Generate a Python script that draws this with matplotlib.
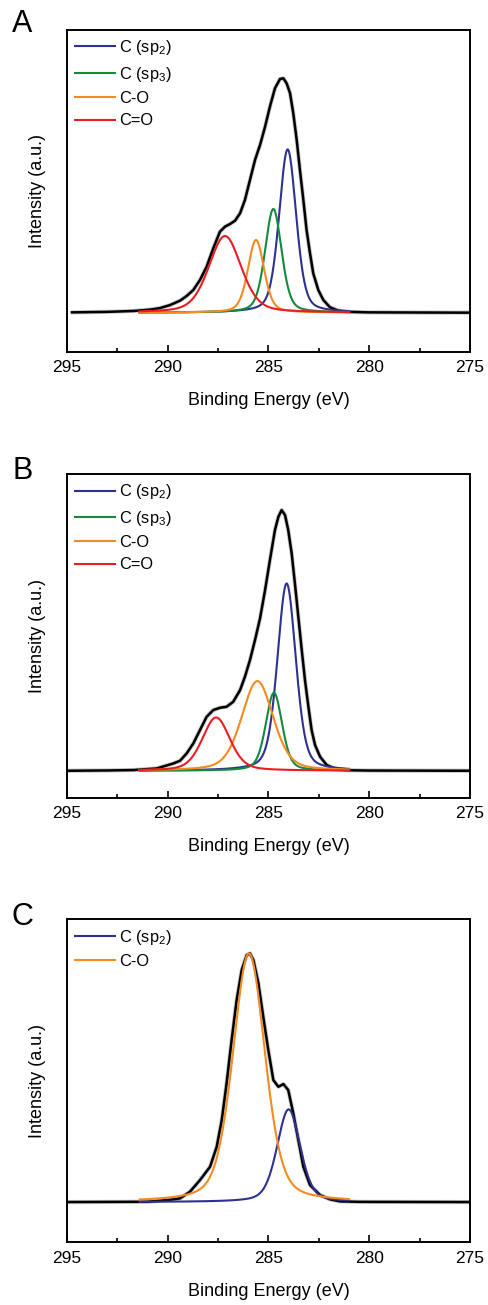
"""
C 1s XPS spectra, three samples (A, B, C) with fitted components.

Envelope values are read off the published figure; the components are
pseudo-Voigt peaks described by centre / height / FWHM.
"""

import numpy as np
import matplotlib
matplotlib.use("Agg")
import matplotlib.pyplot as plt
from matplotlib.ticker import MultipleLocator


# ── Data ──────────────────────────────────────────────────────────────────────

# panel A: fitted envelope (binding energy, intensity a.u.)
a_env_ev = [294.75, 293.0, 291.7, 290.9, 290.4, 289.9, 289.39, 289.06, 288.73,
            288.40, 288.07, 287.74, 287.41, 287.16, 286.91, 286.66, 286.41,
            286.17, 285.92, 285.67, 285.42, 285.17, 284.93, 284.68, 284.43,
            284.26, 284.10, 283.93, 283.77, 283.60, 283.44, 283.27, 283.11,
            282.94, 282.78, 282.53, 282.28, 281.95, 281.53, 281.0, 280.0, 275.0]
a_env_int = [0.3, 0.8, 1.7, 3.0, 4.5, 7.5, 12.0, 16.7, 22.7,
             32.7, 46.0, 64.4, 81.0, 86.0, 88.7, 92.0, 99.4,
             112.7, 132.7, 152.7, 167.7, 186.0, 206.0, 224.4, 233.7,
             234.4, 229.4, 219.4, 199.4, 172.7, 142.7, 112.7, 82.7,
             59.4, 39.4, 22.7, 12.7, 5.4, 2.0, 0.8, 0.3, 0.0]
a_labels = ["C (sp$\\mathregular{_2}$)", "C (sp$\\mathregular{_3}$)", "C-O", "C=O"]
a_centres = [284.05, 284.76, 285.62, 287.16]
a_heights = [163.3, 103.7, 72.7, 76.7]
a_fwhm = [1.00, 0.97, 0.95, 1.90]

# panel B
b_env_ev = [295.0, 293.0, 291.7, 290.55, 289.72, 289.39, 289.06, 288.73, 288.40,
            288.07, 287.74, 287.41, 287.08, 286.75, 286.41, 286.17, 285.92,
            285.67, 285.42, 285.17, 284.93, 284.68, 284.51, 284.35, 284.18,
            284.02, 283.85, 283.69, 283.52, 283.35, 283.19, 283.02, 282.86,
            282.69, 282.44, 282.11, 281.62, 281.0, 280.0, 275.0]
b_env_int = [0.0, 0.3, 0.7, 2.3, 7.3, 10.0, 17.4, 27.4, 40.7,
             54.0, 60.7, 63.0, 64.0, 69.0, 80.7, 94.0, 110.7,
             130.7, 152.4, 180.7, 210.7, 240.7, 254.0, 260.7, 255.7,
             240.7, 217.4, 187.4, 154.0, 120.7, 90.7, 64.0, 40.7,
             25.7, 14.0, 5.7, 1.4, 0.5, 0.2, 0.0]
b_labels = a_labels
b_centres = [284.10, 284.73, 285.55, 287.60]
b_heights = [187.3, 78.0, 89.7, 53.3]
b_fwhm = [1.08, 0.96, 1.85, 1.62]

# panel C
c_env_ev = [295.0, 291.0, 290.3, 289.8, 289.39, 288.90, 288.40, 287.90, 287.57,
            287.32, 287.08, 286.83, 286.58, 286.33, 286.08, 285.92, 285.75,
            285.50, 285.26, 285.01, 284.76, 284.51, 284.26, 284.02, 283.77,
            283.52, 283.27, 282.94, 282.44, 281.95, 281.45, 280.5, 275.0]
c_env_int = [0.0, 0.3, 1.5, 2.5, 3.7, 10.3, 22.0, 35.3, 55.3,
             82.0, 118.7, 162.0, 202.0, 232.0, 247.0, 248.7, 242.0,
             218.7, 185.3, 152.0, 122.0, 115.3, 118.0, 112.0, 88.7,
             62.0, 35.3, 17.0, 7.0, 2.7, 0.7, 0.2, 0.0]
c_labels = ["C (sp$\\mathregular{_2}$)", "C-O"]
c_centres = [284.00, 285.97]
c_heights = [92.7, 248.7]
c_fwhm = [1.36, 1.88]

panel_letters = ["A", "B", "C"]
x_ticks = [295, 290, 285, 280, 275]


# ── Style ─────────────────────────────────────────────────────────────────────

plt.rcParams["font.family"] = ["Liberation Sans", "DejaVu Sans"]
plt.rcParams["mathtext.fontset"] = "custom"
plt.rcParams["mathtext.rm"] = "Liberation Sans"

COLOURS = {"C (sp$\\mathregular{_2}$)": "#2e3192",
           "C (sp$\\mathregular{_3}$)": "#138a3e",
           "C-O": "#f58a1f",
           "C=O": "#ec1c24"}
ETA = 0.35                      # Lorentzian fraction of the pseudo-Voigt
FIT_RANGE = (291.4, 281.0)      # energies over which components are drawn


def pseudo_voigt(x, centre, height, fwhm, eta=ETA):
    r2 = ((x - centre) / fwhm) ** 2
    gauss = np.exp(-4.0 * np.log(2.0) * r2)
    lorentz = 1.0 / (1.0 + 4.0 * r2)
    return height * (eta * lorentz + (1.0 - eta) * gauss)


# ── Figure ────────────────────────────────────────────────────────────────────

fig = plt.figure(figsize=(4.88, 13.05), dpi=100)

panels = [
    (a_env_ev, a_env_int, a_labels, a_centres, a_heights, a_fwhm),
    (b_env_ev, b_env_int, b_labels, b_centres, b_heights, b_fwhm),
    (c_env_ev, c_env_int, c_labels, c_centres, c_heights, c_fwhm),
]
# axes rectangles (fig fraction) and y-limits putting the baseline in place
rects = [[0.1373, 0.7303, 0.8258, 0.2467],
         [0.1373, 0.3887, 0.8258, 0.2480],
         [0.1373, 0.0480, 0.8258, 0.2475]]
ylims = [(-39.3, 282.7), (-27.0, 296.7), (-40.3, 282.7)]
letter_y = [0.9816, 0.6391, 0.2973]

for k, (env_ev, env_int, labels, centres, heights, fwhm) in enumerate(panels):
    ax = fig.add_axes(rects[k])

    ax.plot(env_ev, env_int, color="#a0a0a0", lw=3.0, alpha=0.6,
            solid_joinstyle="round", solid_capstyle="round", zorder=2)
    ax.plot(env_ev, env_int, color="black", lw=1.8,
            solid_joinstyle="round", zorder=3)

    xs = np.linspace(FIT_RANGE[0], FIT_RANGE[1], 800)
    handles = []
    for lab, c0, h, w in zip(labels, centres, heights, fwhm):
        ln, = ax.plot(xs, pseudo_voigt(xs, c0, h, w), color=COLOURS[lab],
                      lw=1.5, label=lab, zorder=4)
        handles.append(ln)

    ax.set_xlim(295, 275)
    ax.set_ylim(*ylims[k])
    ax.set_xticks(x_ticks)
    ax.xaxis.set_minor_locator(MultipleLocator(2.5))
    ax.set_yticks([])
    ax.tick_params(axis="x", which="major", direction="in", length=4.8,
                   width=1.2, labelsize=12.5, pad=6)
    ax.tick_params(axis="x", which="minor", direction="in", length=3.0,
                   width=1.2)
    for sp in ax.spines.values():
        sp.set_linewidth(1.4)

    ax.set_xlabel("Binding Energy (eV)", fontsize=13)
    ax.xaxis.set_label_coords(0.5, -0.125)
    ax.set_ylabel("Intensity (a.u.)", fontsize=13)
    ax.yaxis.set_label_coords(-0.052, 0.5)

    ax.legend(handles=handles, loc="upper left", frameon=False, fontsize=11.8,
              handlelength=2.4, handletextpad=0.3, labelspacing=0.45,
              borderaxespad=0.1, borderpad=0.4)

    fig.text(0.046, letter_y[k], panel_letters[k], fontsize=22,
             ha="center", va="center")

fig.savefig("out.png", dpi=100)
